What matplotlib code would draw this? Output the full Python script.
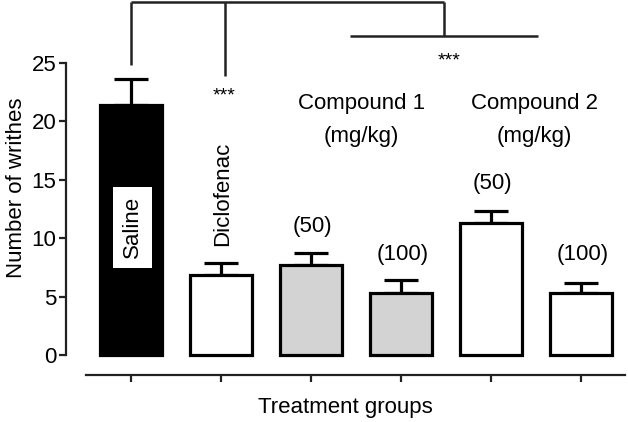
import numpy as np
import matplotlib.pyplot as plt

plt.rcParams["font.family"] = ["Liberation Sans", "DejaVu Sans"]

# %% Data
groups = ["Saline", "Diclofenac", "C1 (50)", "C1 (100)", "C2 (50)", "C2 (100)"]
means = [21.4, 6.85, 7.7, 5.3, 11.3, 5.3]
sem = [2.2, 1.05, 1.0, 1.1, 1.0, 0.85]
fills = ["black", "white", "#d3d3d3", "#d3d3d3", "white", "white"]
dose_labels = ["(50)", "(100)", "(50)", "(100)"]

fs = 16

# %% Plot
fig = plt.figure(figsize=(6.28, 4.22), dpi=100)
ax = fig.add_axes([66 / 628, 47 / 422, (625 - 66) / 628, 375 / 422])
x = np.arange(len(groups))

ax.bar(x, means, width=0.69, color=fills, edgecolor="black", linewidth=2.3, zorder=2)
ax.errorbar(x, means, yerr=[np.zeros(len(sem)), sem], fmt="none", ecolor="black",
            elinewidth=2.3, capsize=12, capthick=2.3, zorder=1)

ax.set_xlim(-0.722, 5.49)
ax.set_ylim(-1.71, 30.4)
ax.set_yticks(np.arange(0, 26, 5))
ax.set_xticks(x)
ax.set_xticklabels([])
ax.spines["top"].set_visible(False)
ax.spines["right"].set_visible(False)
ax.spines["left"].set_bounds(0, 25)
ax.spines["bottom"].set_bounds(-0.5, 5.49)
for s in ("left", "bottom"):
    ax.spines[s].set_linewidth(1.6)
    ax.spines[s].set_color("#222222")
ax.tick_params(axis="both", direction="out", length=5, width=1.6, color="#222222",
               labelsize=fs, pad=2)
ax.set_ylabel("Number of writhes", fontsize=fs, labelpad=3)
ax.set_xlabel("Treatment groups", fontsize=fs, labelpad=9)

# Saline label box inside black bar
ax.add_patch(plt.Rectangle((-0.2, 7.45), 0.433, 6.95, facecolor="white",
                           edgecolor="none", zorder=3))
ax.text(0.017, 11.0, "Saline", rotation=90, ha="center", va="center",
        fontsize=fs, zorder=4)
ax.text(1.02, 13.8, "Diclofenac", rotation=90, ha="center", va="center", fontsize=fs)

# group labels
for xc, name in [(2.56, "Compound 1"), (4.48, "Compound 2")]:
    ax.text(xc, 21.5, name, ha="center", va="center", fontsize=fs)
    ax.text(xc, 18.75, "(mg/kg)", ha="center", va="center", fontsize=fs)

for xi, lab, yv in zip(x[2:], dose_labels, [11.0, 8.6, 14.7, 8.6]):
    ax.text(xi + 0.02, yv, lab, ha="center", va="center", fontsize=fs)

# significance brackets
lk = dict(color="#222222", linewidth=1.8, clip_on=False, solid_capstyle="butt")
ax.plot([0, 3.48], [30.2, 30.2], **lk)
ax.plot([0, 0], [30.2, 24.8], **lk)
ax.plot([1.04, 1.04], [30.2, 23.9], **lk)
ax.plot([3.48, 3.48], [30.2, 27.3], **lk)
ax.plot([2.43, 4.52], [27.3, 27.3], **lk)
ax.text(1.04, 22.2, "***", ha="center", va="center", fontsize=14)
ax.text(3.54, 25.2, "***", ha="center", va="center", fontsize=14)

fig.savefig("out.png", dpi=100)
